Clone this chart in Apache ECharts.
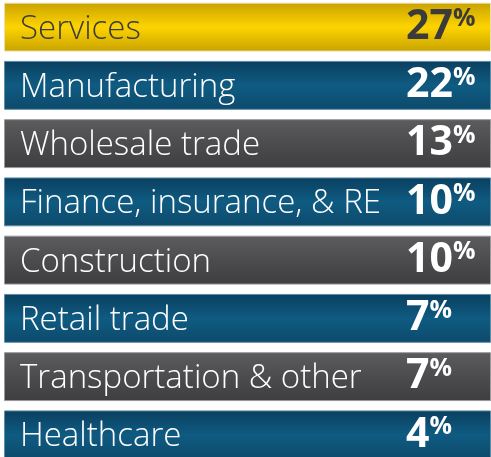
<!DOCTYPE html>
<html>
<head>
<meta charset="utf-8">
<script src="https://cdn.jsdelivr.net/npm/echarts@6/dist/echarts.min.js"></script>
<style>
  html, body { margin: 0; padding: 0; background: #fff; }
  #main { width: 491px; height: 457px; }
</style>
</head>
<body>
<div id="main"></div>
<script>
// 行业名称与占比
var categories = ['Services', 'Manufacturing', 'Wholesale trade', 'Finance, insurance, & RE',
  'Construction', 'Retail trade', 'Transportation & other', 'Healthcare']
var shares = [27, 22, 13, 10, 10, 7, 7, 4]
// 每一条的配色主题
var themes = ['gold', 'blue', 'gray', 'blue', 'gray', 'blue', 'gray', 'blue']

var palette = {
  gold: { stops: ['#c9a200', '#fdd400', '#c8a200'], text: '#3b3b3b', edge: '#eadfa8' },
  blue: { stops: ['#0a3f5f', '#0f5b82', '#0d4a6b'], text: '#ffffff', edge: '#5f8ea8' },
  gray: { stops: ['#5c5c5e', '#4c4c4e', '#3e3e40'], text: '#ffffff', edge: '#9a9a9c' }
}

function grad(s) {
  return new echarts.graphic.LinearGradient(0, 0, 0, 1, [
    { offset: 0, color: s[0] },
    { offset: 0.5, color: s[1] },
    { offset: 1, color: s[2] }
  ])
}

var FULL = 100

var myChart = echarts.init(document.getElementById('main'))

myChart.setOption({
  animation: false,
  grid: { left: 4, right: 0, top: -2, height: 466, outerBoundsMode: 'none' },
  xAxis: { type: 'value', min: 0, max: FULL, show: false },
  yAxis: {
    type: 'category',
    data: categories,
    inverse: true,
    show: false
  },
  series: [
    {
      type: 'bar',
      barWidth: '84%',
      data: categories.map(function (c, i) {
        var p = palette[themes[i]]
        return {
          value: FULL,
          itemStyle: { color: grad(p.stops), borderColor: p.edge, borderWidth: 1 },
          label: {
            rich: {
              name: { color: p.text },
              num: { color: p.text },
              pct: { color: p.text }
            }
          }
        }
      }),
      label: {
        show: true,
        position: 'insideLeft',
        distance: 16,
        formatter: function (d) {
          return '{name|' + d.name + '}{num|' + shares[d.dataIndex] + '}{pct|%}'
        },
        rich: {
          name: {
            fontFamily: 'Open Sans',
            fontWeight: 300,
            fontSize: 33,
            width: 386,
            padding: [4, 0, 0, 0],
            color: '#fff'
          },
          num: {
            fontFamily: 'Open Sans',
            fontWeight: 'bold',
            fontSize: 41,
            color: '#fff'
          },
          pct: {
            fontFamily: 'Open Sans',
            fontWeight: 'bold',
            fontSize: 25,
            verticalAlign: 'top',
            padding: [0, 0, 12, 0],
            color: '#fff'
          }
        }
      }
    }
  ]
})

window.addEventListener('resize', function () {
  myChart.resize()
})
</script>
</body>
</html>
